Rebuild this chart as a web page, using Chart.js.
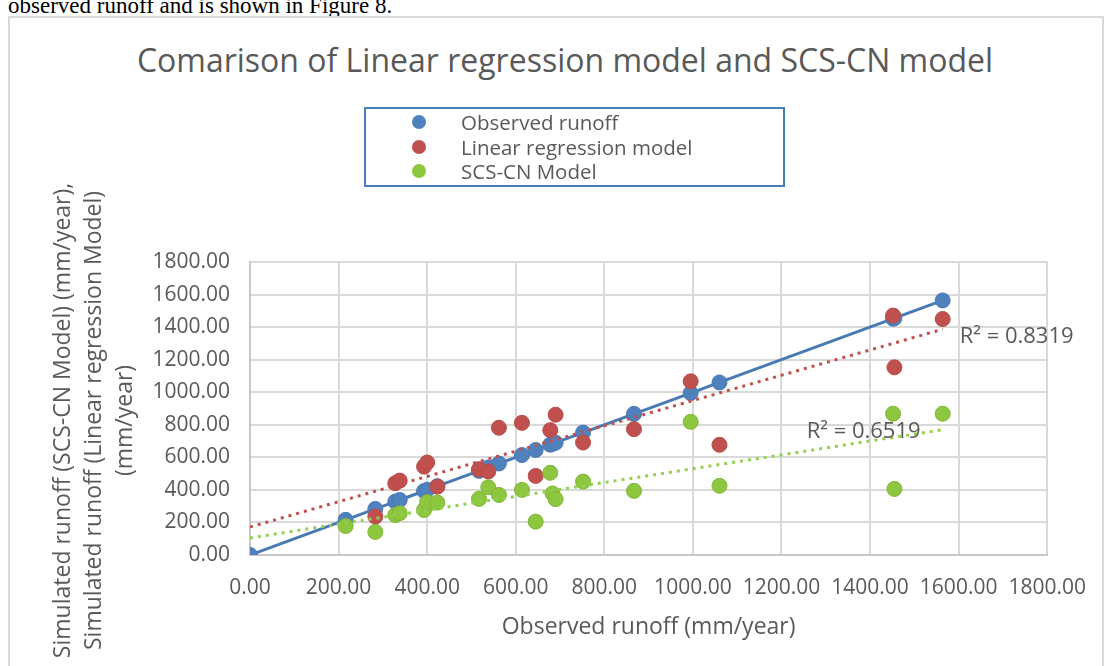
<!DOCTYPE html>
<html>
<head>
<meta charset="utf-8">
<script src="https://cdn.jsdelivr.net/npm/chart.js@4.4.1/dist/chart.umd.min.js"></script>
<style>
  html, body { margin: 0; padding: 0; background: #fff; overflow: hidden; }
  body { width: 1106px; height: 666px; position: relative; }
  #lead {
    position: absolute; left: 8px; top: -6px; margin: 0;
    font: 23px/23px "Liberation Serif", "Times New Roman", serif; color: #000;
    white-space: nowrap;
  }
  #frame {
    position: absolute; left: 8px; top: 16px; width: 1096px; height: 700px;
    border: 2px solid #d9d9d9; box-sizing: border-box;
  }
  #title {
    position: absolute; left: 0; top: 41px; width: 1130px; margin: 0;
    text-align: center; font: 32px/37px "Open Sans", sans-serif; color: #595959;
    white-space: nowrap;
  }
  #legend {
    position: absolute; left: 364px; top: 107px; width: 421px; height: 80px;
    border: 2px solid #4a7ebb; box-sizing: border-box; padding-top: 1px; z-index: 2;
    font: 20.5px/24.5px "Open Sans", sans-serif; color: #595959;
  }
  #legend div { position: relative; padding-left: 95px; white-space: nowrap; }
  #legend span {
    position: absolute; left: 46px; top: 5px; width: 14px; height: 14px; border-radius: 50%;
  }
  canvas { position: absolute; left: 0; top: 0; z-index: 1; }
</style>
</head>
<body>
<p id="lead">observed runoff and is shown in Figure 8.</p>
<div id="frame"></div>
<p id="title">Comarison of Linear regression model and SCS-CN model</p>
<div id="legend"></div>
<canvas id="chart" width="1106" height="666"></canvas>
<script>
// observed runoff (mm/year) -- also the x value of every point
const observed = [0, 216, 283, 328, 338, 393, 400, 423, 517, 538, 562, 614, 645, 678, 683, 690, 752, 867, 995, 1060, 1452, 1455, 1564];
// simulated runoff, same order as observed (null = no point)
const lrModel  = [null, null, 236, 441, 457, 543, 568, 420, 527, 513, 782, 812, 486, 767, null, 862, 691, 773, 1067, 677, 1471, 1153, 1450];
const scsModel = [null, 178, 142, 246, 257, 277, 325, 322, 345, 416, 369, 400, 205, 505, 378, 343, 451, 394, 818, 425, 868, 406, 868];

// linear trendlines as drawn (value at x start / x end)
const trendX   = [0, 1564];
const lrTrend  = [172, 1387];
const scsTrend = [105, 770];
const r2Labels = ['R\u00b2 = 0.8319', 'R\u00b2 = 0.6519'];

const seriesNames = ['Observed runoff', 'Linear regression model', 'SCS-CN Model'];
const axisTicks = [0, 200, 400, 600, 800, 1000, 1200, 1400, 1600, 1800];

const BLUE = '#4f81bd', RED = '#c0504d', GREEN = '#8dc63f';
const seriesColors = [BLUE, RED, GREEN];

function pts(ys) {
  return observed.map((x, i) => ({ x, y: ys[i] })).filter(p => p.y !== null);
}
function trend(ys) {
  return trendX.map((x, i) => ({ x, y: ys[i] }));
}

// html legend
const legendEl = document.getElementById('legend');
seriesNames.forEach((name, i) => {
  const row = document.createElement('div');
  const dot = document.createElement('span');
  dot.style.background = seriesColors[i];
  row.appendChild(dot);
  row.appendChild(document.createTextNode(name));
  legendEl.appendChild(row);
});

// R² text next to the end of each trendline
const r2Plugin = {
  id: 'r2',
  afterDatasetsDraw(chart) {
    const ctx = chart.ctx;
    const offsets = [[17, 8], [-136, 2]];
    [3, 4].forEach((dsIndex, k) => {
      const meta = chart.getDatasetMeta(dsIndex);
      const end = meta.data[meta.data.length - 1];
      ctx.save();
      ctx.font = '22px "Open Sans", sans-serif';
      ctx.fillStyle = '#595959';
      ctx.textBaseline = 'middle';
      ctx.textAlign = 'left';
      ctx.fillText(r2Labels[k], end.x + offsets[k][0], end.y + offsets[k][1]);
      ctx.restore();
    });
  }
};

const marker = (c, edge) => ({
  backgroundColor: c, borderColor: edge, pointBackgroundColor: c, pointBorderColor: edge,
  pointRadius: 7.5, pointHoverRadius: 7.5, pointBorderWidth: 1
});

const tickFmt = v => Number(v).toFixed(2);

const axis = extra => Object.assign({
  type: 'linear',
  min: 0, max: 1800,
  afterBuildTicks: s => { s.ticks = axisTicks.map(v => ({ value: v })); },
  grid: { color: '#d9d9d9', lineWidth: 2, drawTicks: false },
  border: { display: true, color: '#c8c8c8', width: 2 }
}, extra);

new Chart(document.getElementById('chart'), {
  type: 'scatter',
  data: {
    datasets: [
      Object.assign({ label: seriesNames[0], data: pts(observed), showLine: true, borderWidth: 3, order: 3 },
        marker(BLUE, '#4a7ab3')),
      Object.assign({ label: seriesNames[1], data: pts(lrModel), order: 2 }, marker(RED, '#b84b48')),
      Object.assign({ label: seriesNames[2], data: pts(scsModel), order: 1 }, marker(GREEN, '#7fb536')),
      {
        label: 'trend lr', data: trend(lrTrend), showLine: true, order: 0,
        borderColor: RED, borderWidth: 3, borderDash: [3, 5], pointRadius: 0
      },
      {
        label: 'trend scs', data: trend(scsTrend), showLine: true, order: 0,
        borderColor: '#92d050', borderWidth: 3, borderDash: [3, 5], pointRadius: 0
      }
    ]
  },
  options: {
    responsive: false,
    animation: false,
    layout: { padding: { top: 262, right: 51, bottom: 0, left: 0 } },
    plugins: {
      legend: { display: false },
      tooltip: { enabled: false }
    },
    scales: {
      x: axis({
        position: 'bottom',
        afterFit: s => { s.height = 111; },
        ticks: {
          color: '#595959', padding: 20, maxRotation: 0,
          font: { family: 'Open Sans', size: 21 },
          callback: tickFmt
        },
        title: {
          display: true, text: 'Observed runoff (mm/year)', color: '#595959',
          font: { family: 'Open Sans', size: 23 }, padding: { top: 0, bottom: 25 }
        }
      }),
      y: axis({
        position: 'left',
        afterFit: s => { s.width = 250; },
        ticks: {
          color: '#595959', padding: 20,
          font: { family: 'Open Sans', size: 21 },
          callback: tickFmt
        },
        title: {
          display: true,
          // trailing spaces nudge the block down a little, as in the original
          text: ['Simulated runoff (SCS-CN Model) (mm/year),    ', 'Simulated runoff (Linear regression Model)    ', '(mm/year)    '],
          color: '#595959',
          font: { family: 'Open Sans', size: 23, lineHeight: 1.35 },
          padding: { top: 48, bottom: 0 }
        }
      })
    }
  },
  plugins: [r2Plugin]
});
</script>
</body>
</html>
